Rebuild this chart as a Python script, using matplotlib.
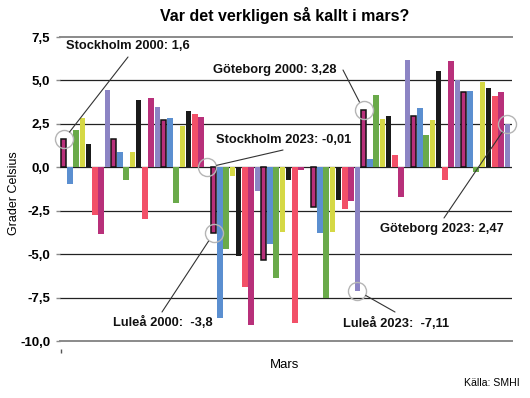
import numpy as np
import matplotlib
matplotlib.use("Agg")
import matplotlib.pyplot as plt

plt.rcParams['font.family'] = ['Liberation Sans', 'DejaVu Sans']

years = list(range(2000, 2024))
cities = ["Stockholm", "Luleå", "Göteborg"]

stockholm = [1.6, -0.94, 2.17, 2.83, 1.36, -2.72, -3.85, 4.43, 1.63, 0.88, -0.75, 0.86,
             3.85, -2.99, 3.98, 3.45, 2.74, 2.83, -2.03, 2.39, 3.22, 3.08, 2.89, -0.01]
lulea = [-3.8, -8.7, -4.71, -0.48, -5.1, -6.88, -9.08, -1.38, -5.34, -4.43, -6.36, -3.72,
         -0.75, -8.99, -0.17, 0.02, -2.28, -3.77, -7.55, -3.75, -1.86, -2.43, -1.93, -7.11]
goteborg = [3.28, 0.46, 4.14, 2.8, 2.97, 0.69, -1.71, 6.19, 2.93, 3.41, 1.88, 2.74,
            5.57, -0.75, 6.11, 5.0, 4.35, 4.42, -0.27, 4.9, 4.58, 4.08, 4.33, 2.47]

yticks = [7.5, 5.0, 2.5, 0.0, -2.5, -5.0, -7.5, -10.0]

# färg per år, 8 färger som går runt
palette = ["#b8307a", "#5b8fd0", "#6aaa4a", "#d5d845", "#1a1a1a", "#f25068", "#b8307a", "#8c84c4"]

# annoteringar: (stad, år, textposition i bildpixlar, linjestart i bildpixlar)
notes = [
    ("Stockholm", 2000, "Stockholm 2000: 1,6", (66, 46), (128, 57)),
    ("Göteborg", 2000, "Göteborg 2000: 3,28", (213, 70), (343, 70)),
    ("Stockholm", 2023, "Stockholm 2023: -0,01", (216, 140), (283, 150)),
    ("Göteborg", 2023, "Göteborg 2023: 2,47", (380, 229), (444, 218)),
    ("Luleå", 2000, "Luleå 2000:  -3,8", (113, 322), (162, 312)),
    ("Luleå", 2023, "Luleå 2023:  -7,11", (343, 323), (395, 312)),
]

W, H = 530, 398
fig = plt.figure(figsize=(W / 100, H / 100), dpi=100)
ax = fig.add_axes([60 / W, (H - 341) / H, (512 - 60) / W, (341 - 37) / H])

values = stockholm + lulea + goteborg
x = np.arange(len(values))
colors = [palette[i % 8] for i in range(len(values))]
edges = ["#111111" if i % 8 == 0 else "none" for i in range(len(values))]
lws = [1.1 if i % 8 == 0 else 0 for i in range(len(values))]
ax.bar(x, values, width=0.88, color=colors, edgecolor=edges, linewidth=lws, zorder=3)

for v in yticks:
    if v in (7.5, -10.0):
        ax.axhline(v, color="#8a8a8a", lw=1.4, zorder=1, clip_on=False)
    else:
        ax.axhline(v, color="#222222", lw=0.9, zorder=1)

ax.set_ylim(-10, 7.5)
ax.set_xlim(-0.59, 71.72)
ax.set_yticks(yticks)
ax.set_yticklabels([f"{v:.1f}".replace(".", ",") for v in yticks], fontweight="bold", fontsize=9.5)
ax.tick_params(axis="y", length=3, width=1, color="#8a8a8a", pad=4)
ax.set_xticks([-0.45])
ax.set_xticklabels([""])
ax.tick_params(axis="x", length=3, width=1, color="#555555")
for s in ax.spines.values():
    s.set_visible(False)
ax.spines["bottom"].set_position(("outward", 5.8))

# annoteringar med cirkel
groups = {"Stockholm": stockholm, "Luleå": lulea, "Göteborg": goteborg}
for city, yr, label, tpos, lstart in notes:
    i = cities.index(city) * 24 + years.index(yr)
    val = groups[city][years.index(yr)]
    ax.plot(i, val, marker="o", ms=13, mfc="none", mec="#b5b5b5", mew=1, zorder=5, clip_on=False)
    ax.annotate("", xy=(i, val), xytext=(lstart[0], H - lstart[1]), textcoords="figure pixels",
                arrowprops=dict(arrowstyle="-", color="#333333", lw=0.8, shrinkA=0, shrinkB=6.8), zorder=5)
    fig.text(tpos[0] / W, (H - tpos[1]) / H, label, ha="left", va="center",
             fontsize=9.3, fontweight="bold", color="#111111")

fig.text(285 / W, 1 - 15 / H, "Var det verkligen så kallt i mars?", ha="center", va="center",
         fontsize=11.5, fontweight="bold")
fig.text(14 / W, 1 - 193 / H, "Grader Celsius", rotation=90, ha="center", va="center", fontsize=9)
fig.text(285 / W, 1 - 365 / H, "Mars", ha="center", va="center", fontsize=9.5)
fig.text(520 / W, 1 - 383 / H, "Källa: SMHI", ha="right", va="center", fontsize=7.6)

fig.savefig("out.png", dpi=100)
